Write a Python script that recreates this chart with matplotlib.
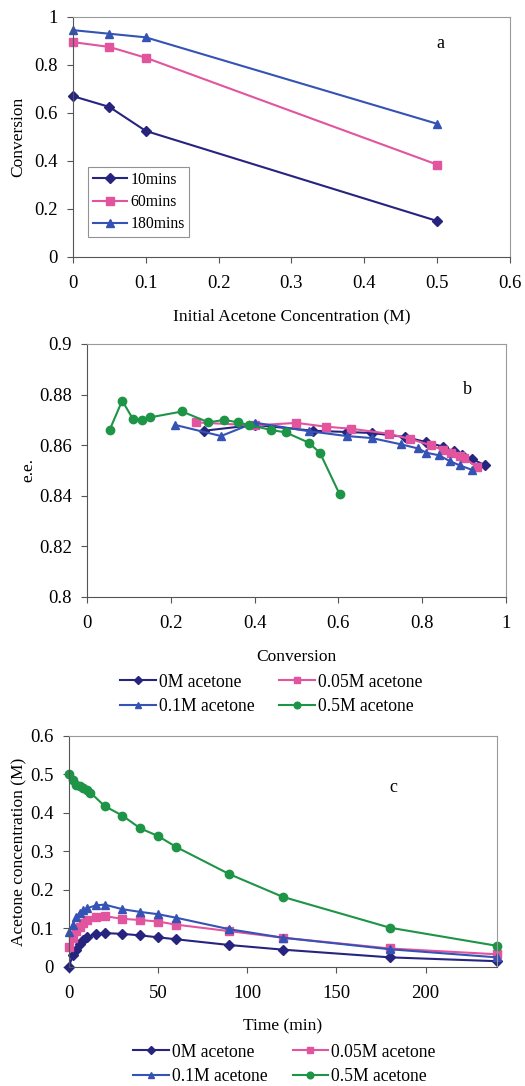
import numpy as np
import matplotlib
matplotlib.use("Agg")
import matplotlib.pyplot as plt
from matplotlib.ticker import FuncFormatter

plt.rcParams['font.family'] = ['Liberation Serif', 'DejaVu Serif']
plt.rcParams['font.size'] = 12.5

# colours / markers shared by the series
navy, pink, blue, green = "#26247f", "#e2549d", "#3552b5", "#1d9446"

# panel a: conversion vs initial acetone
acetone0 = [0, 0.05, 0.1, 0.5]
conv_10 = [0.67, 0.625, 0.525, 0.15]
conv_60 = [0.895, 0.875, 0.83, 0.385]
conv_180 = [0.945, 0.93, 0.915, 0.555]

# panel b: e.e. vs conversion
b_x_0 = [0.28, 0.40, 0.54, 0.62, 0.68, 0.76, 0.81, 0.85, 0.875, 0.895, 0.92, 0.95]
b_y_0 = [0.8657, 0.868, 0.8657, 0.8652, 0.8648, 0.8632, 0.8612, 0.8594, 0.8575, 0.8562, 0.8545, 0.852]
b_x_005 = [0.26, 0.40, 0.50, 0.57, 0.63, 0.72, 0.77, 0.82, 0.85, 0.87, 0.89, 0.90, 0.93]
b_y_005 = [0.869, 0.8678, 0.8688, 0.8673, 0.8665, 0.8645, 0.8625, 0.860, 0.858, 0.857, 0.8558, 0.855, 0.8515]
b_x_01 = [0.21, 0.32, 0.40, 0.53, 0.62, 0.68, 0.75, 0.79, 0.81, 0.84, 0.866, 0.89, 0.918]
b_y_01 = [0.868, 0.8636, 0.8689, 0.8655, 0.8636, 0.8628, 0.8603, 0.8587, 0.857, 0.856, 0.8537, 0.852, 0.8503]
b_x_05 = [0.054, 0.084, 0.109, 0.131, 0.151, 0.227, 0.29, 0.328, 0.36, 0.386, 0.44, 0.475, 0.529, 0.556, 0.603]
b_y_05 = [0.866, 0.8776, 0.8705, 0.870, 0.871, 0.8733, 0.869, 0.870, 0.869, 0.868, 0.866, 0.865, 0.861, 0.857, 0.8406]

# panel c: acetone concentration vs time
t_low = [0, 2, 4, 6, 8, 10, 15, 20, 30, 40, 50, 60, 90, 120, 180, 240]
c_0 = [0.0, 0.03, 0.045, 0.06, 0.07, 0.077, 0.085, 0.088, 0.086, 0.082, 0.077, 0.072, 0.057, 0.045, 0.025, 0.015]
c_005 = [0.052, 0.075, 0.093, 0.105, 0.115, 0.122, 0.13, 0.132, 0.125, 0.122, 0.118, 0.11, 0.093, 0.076, 0.048, 0.033]
c_01 = [0.09, 0.11, 0.13, 0.14, 0.147, 0.152, 0.16, 0.162, 0.15, 0.143, 0.137, 0.128, 0.098, 0.076, 0.046, 0.025]
t_high = [0, 2, 4, 6, 8, 10, 12, 20, 30, 40, 50, 60, 90, 120, 180, 240]
c_05 = [0.5, 0.486, 0.473, 0.47, 0.466, 0.46, 0.453, 0.418, 0.393, 0.36, 0.34, 0.312, 0.241, 0.182, 0.102, 0.055]

series_lbl = ["0M acetone", "0.05M acetone", "0.1M acetone", "0.5M acetone"]

fig = plt.figure(figsize=(5.25, 10.86), dpi=100)
ax_a = fig.add_axes([0.139, 0.7634, 0.832, 0.221])
ax_b = fig.add_axes([0.1657, 0.4503, 0.798, 0.233])
ax_c = fig.add_axes([0.1314, 0.1096, 0.815, 0.2127])

def style(ax):
    for s in ["top", "right"]:
        ax.spines[s].set_color("#9a9a9a")
    for s in ["left", "bottom"]:
        ax.spines[s].set_color("#555555")
    ax.tick_params(direction="out", length=4, color="#555555", labelsize=13.5)
    ax.tick_params(axis="x", pad=9)
    ax.tick_params(axis="y", pad=7)
    fmt = FuncFormatter(lambda v, p: "%g" % round(v, 4))
    ax.xaxis.set_major_formatter(fmt)
    ax.yaxis.set_major_formatter(fmt)
    ax.xaxis.labelpad = 12
    ax.yaxis.labelpad = 6
    for ln in ax.get_lines():
        ln.set_clip_on(False)

# --- a
ax_a.plot(acetone0, conv_10, color=navy, marker="D", ms=5, lw=1.5, label="10mins")
ax_a.plot(acetone0, conv_60, color=pink, marker="s", ms=6, lw=1.5, label="60mins")
ax_a.plot(acetone0, conv_180, color=blue, marker="^", ms=6, lw=1.5, label="180mins")
ax_a.set_xlim(0, 0.6)
ax_a.set_ylim(0, 1)
ax_a.set_xticks(np.arange(0, 0.61, 0.1))
ax_a.set_yticks(np.arange(0, 1.01, 0.2))
ax_a.set_xlabel("Initial Acetone Concentration (M)")
ax_a.set_ylabel("Conversion")
style(ax_a)
leg = ax_a.legend(loc="lower left", bbox_to_anchor=(0.034, 0.083), fontsize=11.3,
                  fancybox=False, edgecolor="#777777", handlelength=2.2,
                  borderaxespad=0, labelspacing=0.4, handletextpad=0.2,
                  borderpad=0.3)
leg.get_frame().set_linewidth(0.8)
ax_a.text(0.84, 0.89, "a", transform=ax_a.transAxes, fontsize=13, ha="center", va="center")

# --- b
ax_b.plot(b_x_0, b_y_0, color=navy, marker="D", ms=5, lw=1.5)
ax_b.plot(b_x_005, b_y_005, color=pink, marker="s", ms=6, lw=1.5)
ax_b.plot(b_x_01, b_y_01, color=blue, marker="^", ms=6, lw=1.5)
ax_b.plot(b_x_05, b_y_05, color=green, marker="o", ms=6, lw=1.5)
ax_b.set_xlim(0, 1)
ax_b.set_ylim(0.8, 0.9)
ax_b.set_xticks(np.arange(0, 1.01, 0.2))
ax_b.set_yticks(np.arange(0.8, 0.901, 0.02))
ax_b.set_xlabel("Conversion")
ax_b.set_ylabel("e.e.")
style(ax_b)
ax_b.yaxis.labelpad = 2
ax_b.text(0.909, 0.818, "b", transform=ax_b.transAxes, fontsize=13, ha="center", va="center")

# --- c
ax_c.plot(t_low, c_0, color=navy, marker="D", ms=5, lw=1.5)
ax_c.plot(t_low, c_005, color=pink, marker="s", ms=6, lw=1.5)
ax_c.plot(t_low, c_01, color=blue, marker="^", ms=6, lw=1.5)
ax_c.plot(t_high, c_05, color=green, marker="o", ms=6, lw=1.5)
ax_c.set_xlim(0, 240)
ax_c.set_ylim(0, 0.6)
ax_c.set_xticks(np.arange(0, 201, 50))
ax_c.set_yticks(np.arange(0, 0.61, 0.1))
ax_c.set_xlabel("Time (min)")
ax_c.set_ylabel("Acetone concentration (M)")
style(ax_c)
ax_c.yaxis.labelpad = 2
ax_c.text(0.757, 0.775, "c", transform=ax_c.transAxes, fontsize=13, ha="center", va="center")

# legends below b and c, filled row by row
order = [0, 2, 1, 3]
for ax, anchor in [(ax_b, (0.517, 0.3605)), (ax_c, (0.542, 0.0198))]:
    lines = ax.get_lines()
    fig.legend([lines[i] for i in order], [series_lbl[i] for i in order],
               loc="center", bbox_to_anchor=anchor,
               ncol=2, frameon=False, fontsize=12.7, handlelength=2.0,
               columnspacing=1.4, handletextpad=0.2, labelspacing=0.45,
               markerscale=0.8, borderpad=0)

fig.savefig("out.png", dpi=100)
